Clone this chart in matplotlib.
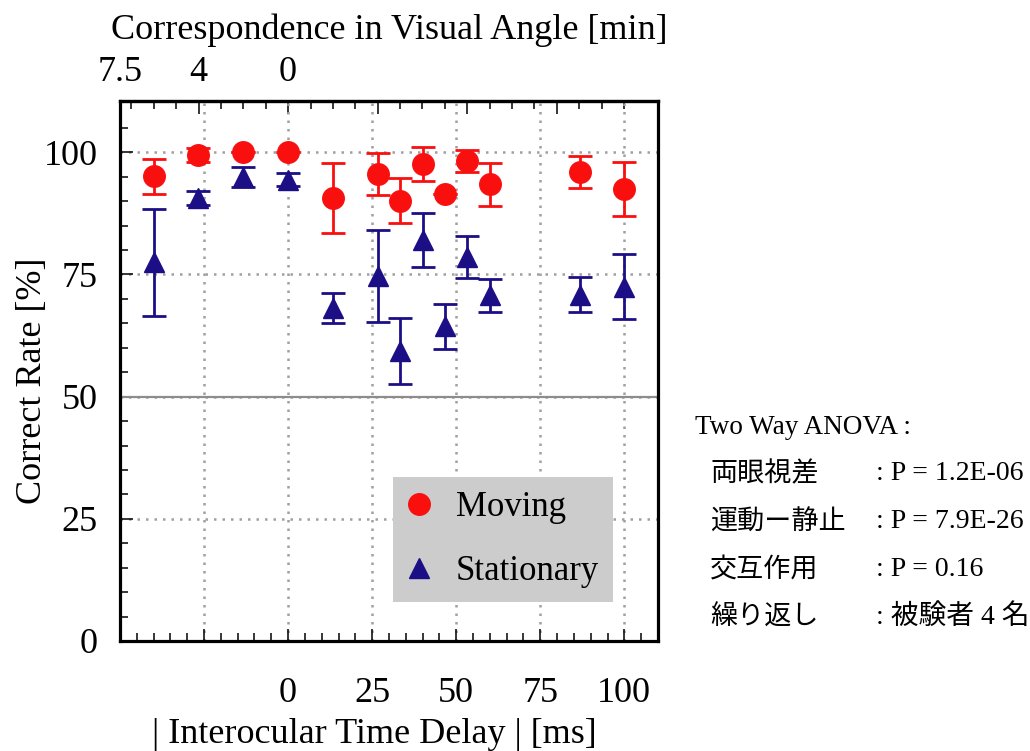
import matplotlib
matplotlib.use("Agg")
import matplotlib.pyplot as plt
from matplotlib.lines import Line2D
from matplotlib.ticker import FixedLocator

plt.rcParams['font.family'] = ['Liberation Serif', 'Noto Sans CJK JP', 'DejaVu Sans']

# interocular time delay [ms] (negative side = visual angle correspondence)
delay_ms = [-40, -26.7, -13.3, 0, 13.3, 26.7, 33.3, 40, 46.7, 53.3, 60, 86.7, 100]
moving_mean = [95.1, 99.4, 100.0, 100.0, 90.7, 95.6, 90.1, 97.6, 91.4, 98.2, 93.5, 96.0, 92.5]
moving_err = [3.6, 1.4, 0.0, 0.0, 7.2, 4.3, 4.6, 3.5, 0.0, 2.3, 4.4, 3.2, 5.5]
stationary_mean = [77.5, 90.7, 95.0, 94.4, 68.2, 74.7, 59.3, 82.0, 64.4, 78.5, 70.7, 70.9, 72.5]
stationary_err = [11.0, 1.4, 2.0, 1.3, 3.1, 9.5, 6.8, 5.5, 4.6, 4.3, 3.4, 3.6, 6.6]

ms_per_min = 6.66
top_ticks = [7.5, 4, 0, -4, -8, -12]
top_labels = ['7.5', '4', '0', '', '', '']
bottom_ticks = [-25, 0, 25, 50, 75, 100]
bottom_labels = ['', '0', '25', '50', '75', '100']
y_ticks = [0, 25, 50, 75, 100]

anova_head = 'Two Way ANOVA :'
anova_names = ['両眼視差', '運動ー静止', '交互作用', '繰り返し']
anova_values = [': P = 1.2E-06', ': P = 7.9E-26', ': P = 0.16', ': 被験者 4 名']

red = '#fa0f0f'
navy = '#1c0f86'

fig = plt.figure(figsize=(10.3, 7.51), dpi=100)
ax = fig.add_axes([0.1165, 0.1465, 0.5223, 0.719])

ax.errorbar(delay_ms, moving_mean, yerr=moving_err, fmt='none', ecolor=red,
            elinewidth=2.0, capsize=8.3, capthick=2.0, zorder=3)
ax.plot(delay_ms, moving_mean, 'o', color=red, ms=15.5, zorder=4)
ax.errorbar(delay_ms, stationary_mean, yerr=stationary_err, fmt='none', ecolor=navy,
            elinewidth=2.0, capsize=8.3, capthick=2.0, zorder=5)
ax.plot(delay_ms, stationary_mean, '^', color=navy, ms=15, zorder=6)

ax.set_xlim(-50, 110)
ax.set_ylim(0, 110.5)

ax.set_xticks(bottom_ticks, bottom_labels)
ax.xaxis.set_minor_locator(FixedLocator(range(-45, 110, 5)))
ax.set_yticks(y_ticks)
ax.yaxis.set_minor_locator(FixedLocator(range(0, 110, 5)))
ax.tick_params(axis='both', which='both', direction='in', color='black', width=1.1,
               top=False, right=False, labelsize=26)
ax.tick_params(axis='both', which='major', length=9)
ax.tick_params(axis='both', which='minor', length=6)
ax.tick_params(axis='x', pad=26)
ax.tick_params(axis='y', pad=16)

ax.grid(True, which='major', linestyle=(0, (1, 2.4)), color='#a0a0a0', linewidth=1.8)
ax.set_axisbelow(True)
ax.axhline(50, color='#8c8c8c', linewidth=1.6, zorder=1.5)

for side in ax.spines.values():
    side.set_linewidth(2.3)
    side.set_color('black')

secax = ax.secondary_xaxis('top', functions=(lambda x: -x / ms_per_min, lambda m: -m * ms_per_min))
secax.set_xticks(top_ticks, top_labels)
secax.xaxis.set_minor_locator(FixedLocator(range(-15, 8)))
secax.tick_params(axis='x', which='both', direction='in', width=1.1, labelsize=26, pad=9)
secax.tick_params(axis='x', which='major', length=9)
secax.tick_params(axis='x', which='minor', length=6)
secax.spines['top'].set_linewidth(2.3)
secax.set_xlabel('Correspondence in Visual Angle [min]', fontsize=26, labelpad=12)

ax.set_xlabel('| Interocular Time Delay | [ms]', fontsize=26)
ax.xaxis.set_label_coords(0.472, -0.142)
ax.set_ylabel('Correct Rate [%]', fontsize=26)
ax.yaxis.set_label_coords(-0.132, 0.481)

handles = [Line2D([], [], marker='o', color=red, ls='none', ms=15.5),
           Line2D([], [], marker='^', color=navy, ls='none', ms=15)]
leg = ax.legend(handles, ['Moving', 'Stationary'], loc='lower left',
                bbox_to_anchor=(0.507, 0.072), borderaxespad=0, fontsize=25,
                frameon=True, fancybox=False, facecolor='#cccccc', edgecolor='none',
                framealpha=1, handlelength=0.7, handletextpad=0.72,
                borderpad=0.4, labelspacing=0.9)
leg.set_zorder(7)

fig.text(695 / 1030, 1 - 427 / 751, anova_head, fontsize=19.5, va='center', ha='left')
row_y = [474, 522, 570, 617]
for name, val, yy in zip(anova_names, anova_values, row_y):
    fig.text(710 / 1030, 1 - yy / 751, name, fontsize=19.5, va='center', ha='left',
             family=['Noto Sans CJK JP', 'Liberation Serif'])
    fig.text(876 / 1030, 1 - yy / 751, val, fontsize=20, va='center', ha='left',
             family=['Liberation Serif', 'Noto Sans CJK JP'])

fig.savefig('out.png', dpi=100)
